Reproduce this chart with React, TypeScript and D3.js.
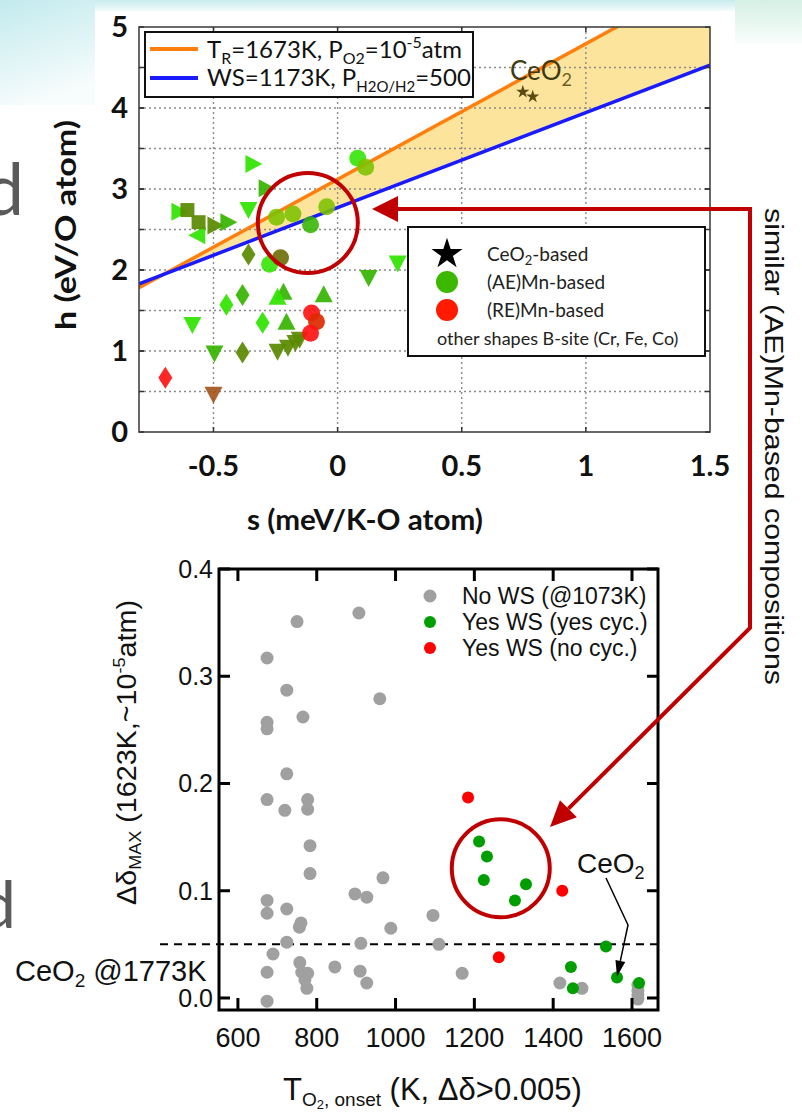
import React from "react";
import * as d3 from "d3";

// ---------------- TOP CHART DATA (h vs s) ----------------
const sTicks = [-0.5, 0, 0.5, 1, 1.5];
const sGrid = [-0.5, 0, 0.5, 1];
const hTicks = [0, 1, 2, 3, 4, 5];
const hGrid = [0.5, 1, 1.5, 2, 2.5, 3, 3.5, 4, 4.5];

// line endpoints [s, h]
const reductionLine = [[-0.8, 1.78], [1.5, 5.63]]; // TR=1673K, PO2=1e-5
const splittingLine = [[-0.8, 1.83], [1.5, 4.53]]; // WS=1173K

const ceo2Based = [[0.746, 4.2], [0.786, 4.14]];
// [s, h, shade]
const aeMnCircles = [
  [0.081, 3.38, "bright"], [0.113, 3.27, "yg"], [-0.246, 2.65, "yg"], [-0.18, 2.69, "yg"],
  [-0.044, 2.78, "yg"], [-0.109, 2.56, "mid"], [-0.274, 2.07, "bright"], [-0.23, 2.15, "dark"],
];
const reMnCircles = [[-0.105, 1.47, "red"], [-0.085, 1.36, "darkred"], [-0.109, 1.22, "red"]];
const downTriangles = [
  [-0.585, 1.32, "bright"], [-0.496, 0.97, "mid"], [-0.242, 0.99, "olive"], [-0.2, 1.04, "olive"],
  [-0.17, 1.1, "olive"], [-0.153, 1.14, "olive"], [-0.359, 2.74, "bright"], [0.125, 1.9, "mid"],
  [0.242, 2.08, "bright"], [-0.5, 0.46, "brown"],
];
const upTriangles = [[-0.218, 1.73, "mid"], [-0.242, 1.67, "bright"], [-0.056, 1.7, "mid"], [-0.206, 1.36, "mid"]];
const diamonds = [
  [-0.359, 2.19, "olive"], [-0.383, 1.69, "mid"], [-0.448, 1.57, "bright"], [-0.302, 1.35, "bright"],
  [-0.383, 0.98, "olive"], [-0.694, 0.67, "red"],
];
const rightTriangles = [
  [-0.339, 3.31, "bright"], [-0.286, 3.01, "mid"], [-0.637, 2.72, "bright"], [-0.492, 2.55, "olive"], [-0.44, 2.59, "mid"],
];
const leftTriangles = [[-0.565, 2.43, "bright"]];
const squares = [[-0.605, 2.74, "olive"], [-0.56, 2.59, "olive"]];

const shadeNames = ["bright", "mid", "yg", "olive", "dark", "red", "darkred", "brown"];
const shadeColors = ["#2fe400", "#36b400", "#7cc200", "#5a8a00", "#6a6800", "#ff1414", "#dc2a00", "#a5561e"];

// ---------------- BOTTOM CHART DATA ----------------
const tTicks = [600, 800, 1000, 1200, 1400, 1600];
const dTicks = [0.0, 0.1, 0.2, 0.3, 0.4];
const ceo2Ref = 0.05;
// [T_onset, delta]
const noWS = [
  [674, 0.317], [750, 0.351], [907, 0.359], [724, 0.287], [960, 0.279], [765, 0.262], [674, 0.257], [674, 0.251],
  [724, 0.209], [674, 0.185], [719, 0.175], [777, 0.185], [777, 0.176], [783, 0.142], [783, 0.116], [674, 0.091],
  [674, 0.079], [724, 0.083], [760, 0.07], [756, 0.066], [724, 0.052], [689, 0.041], [674, 0.024], [674, -0.003],
  [757, 0.033], [762, 0.024], [777, 0.023], [770, 0.017], [775, 0.009], [846, 0.029], [897, 0.097], [927, 0.094],
  [968, 0.112], [988, 0.065], [912, 0.051], [910, 0.025], [927, 0.014], [1095, 0.077], [1110, 0.05], [1169, 0.023],
  [1417, 0.014], [1473, 0.009], [1615, 0.012], [1615, 0.007], [1615, 0.003], [1615, -0.001],
];
const yesWSyesCyc = [
  [1212, 0.146], [1232, 0.132], [1224, 0.11], [1331, 0.106], [1303, 0.091], [1534, 0.048], [1445, 0.029],
  [1450, 0.009], [1562, 0.019], [1618, 0.014],
];
const yesWSnoCyc = [[1184, 0.187], [1423, 0.1], [1262, 0.038]];
const ceo2Point = [1562, 0.019];
const highlightTop = [-0.12, 2.58];
const highlightBottom = [1267, 0.121];

const arial = "'Liberation Sans', Arial, sans-serif";
const lato = "Lato, 'Open Sans', sans-serif";
const RED = "#c00000";

function markerPath(shape: string, x: number, y: number): string {
  switch (shape) {
    case "down":
      return `M${x - 9},${y - 8}L${x + 9},${y - 8}L${x},${y + 9}Z`;
    case "up":
      return `M${x - 9},${y + 8}L${x + 9},${y + 8}L${x},${y - 9}Z`;
    case "right":
      return `M${x - 8},${y - 9}L${x - 8},${y + 9}L${x + 9},${y}Z`;
    case "left":
      return `M${x + 8},${y - 9}L${x + 8},${y + 9}L${x - 9},${y}Z`;
    case "diamond":
      return `M${x},${y - 11}L${x + 7},${y}L${x},${y + 11}L${x - 7},${y}Z`;
    case "square":
      return `M${x - 7},${y - 7}h14v14h-14Z`;
    default:
      return "";
  }
}

export default function App() {
  const color = d3.scaleOrdinal<string, string>().domain(shadeNames).range(shadeColors);

  // top chart scales
  const xs = d3.scaleLinear().domain([-0.8, 1.5]).range([139, 710]);
  const ys = d3.scaleLinear().domain([0, 5]).range([432, 27]);
  const [tx0, tx1] = xs.range();
  const [ty0, ty1] = ys.range();

  const area = d3
    .area<number>()
    .x((i) => xs(reductionLine[i][0]))
    .y0((i) => ys(splittingLine[i][1]))
    .y1((i) => ys(reductionLine[i][1]));
  const line = d3
    .line<number[]>()
    .x((d) => xs(d[0]))
    .y((d) => ys(d[1]));

  // bottom chart scales
  const xb = d3.scaleLinear().domain([552, 1666]).range([219, 658]);
  const yb = d3.scaleLinear().domain([-0.0112, 0.4]).range([1010, 569]);
  const [bx0, bx1] = xb.range();
  const [by0, by1] = yb.range();

  const starLegend = d3.symbol(d3.symbolStar, 300)()!;
  const starSmall = d3.symbol(d3.symbolStar, 55)()!;

  const shapeSets: [string, any[]][] = [
    ["down", downTriangles],
    ["up", upTriangles],
    ["diamond", diamonds],
    ["right", rightTriangles],
    ["left", leftTriangles],
    ["square", squares],
  ];

  // bottom CeO2 annotation arrow
  const tipX = xb(ceo2Point[0]);
  const tipY = yb(ceo2Point[1]) - 1;
  const kneeX = 628, kneeY = 925;
  const dx = tipX - kneeX, dy = tipY - kneeY;
  const len = Math.hypot(dx, dy);
  const ux = dx / len, uy = dy / len;
  const bcx = tipX - 16 * ux, bcy = tipY - 16 * uy;

  // big red arrow from bracket
  const bigTipX = 550, bigTipY = 827;
  const kx = 750, ky = 628;
  const bdx = bigTipX - kx, bdy = bigTipY - ky;
  const bl = Math.hypot(bdx, bdy);
  const bux = bdx / bl, buy = bdy / bl;
  const bbx = bigTipX - 26 * bux, bby = bigTipY - 26 * buy;

  return (
    <svg width={802} height={1115} style={{ position: "absolute", left: 0, top: 0, background: "#fff" }}>
      <defs>
        <linearGradient id="bgTop" x1="0" y1="0" x2="0" y2="1">
          <stop offset="0" stopColor="#c9ecf0" />
          <stop offset="1" stopColor="#f4fbfb" />
        </linearGradient>
        <linearGradient id="bgLeft" x1="0" y1="0" x2="0.3" y2="1">
          <stop offset="0" stopColor="#c2eaee" />
          <stop offset="1" stopColor="#f7fcfc" />
        </linearGradient>
        <linearGradient id="bgRight" x1="0" y1="0" x2="0" y2="1">
          <stop offset="0" stopColor="#d5f0e4" />
          <stop offset="1" stopColor="#fbfefd" />
        </linearGradient>
        <clipPath id="topClip">
          <rect x={tx0} y={ty1} width={tx1 - tx0} height={ty0 - ty1} />
        </clipPath>
      </defs>

      {/* slide background */}
      <rect x={0} y={0} width={802} height={1115} fill="#fff" />
      <rect x={0} y={0} width={802} height={11} fill="url(#bgTop)" />
      <rect x={0} y={0} width={95} height={105} fill="url(#bgLeft)" />
      <rect x={735} y={0} width={67} height={45} fill="url(#bgRight)" />
      <text x={24} y={215} textAnchor="end" fontSize={72} fontFamily={lato} fill="#5a5a5a">d</text>
      <text x={16} y={928} textAnchor="end" fontSize={66} fontFamily={lato} fill="#5a5a5a">d</text>

      {/* ===== TOP CHART ===== */}
      <g clipPath="url(#topClip)">
        <path d={area([0, 1])!} fill="#fde49c" />
        {sGrid.map((s) => (
          <line key={"gx" + s} x1={xs(s)} x2={xs(s)} y1={ty1} y2={ty0} stroke="#8a8a8a" strokeWidth={1.4} strokeDasharray="2 3" />
        ))}
        {hGrid.map((h) => (
          <line key={"gy" + h} x1={tx0} x2={tx1} y1={ys(h)} y2={ys(h)} stroke="#8a8a8a" strokeWidth={1.4} strokeDasharray="2 3" />
        ))}
        <path d={line(reductionLine)!} stroke="#ff7f0e" strokeWidth={3.5} fill="none" />
        <path d={line(splittingLine)!} stroke="#1a1aff" strokeWidth={3.5} fill="none" />

        {shapeSets.map(([shape, arr]) =>
          arr.map((d: any, i: number) => (
            <path key={shape + i} d={markerPath(shape, xs(d[0]), ys(d[1]))} fill={color(d[2])} opacity={0.92} />
          ))
        )}
        {aeMnCircles.map((d: any, i) => (
          <circle key={"ae" + i} cx={xs(d[0])} cy={ys(d[1])} r={8.5} fill={color(d[2])} opacity={0.88} />
        ))}
        {reMnCircles.map((d: any, i) => (
          <circle key={"re" + i} cx={xs(d[0])} cy={ys(d[1])} r={8.5} fill={color(d[2])} opacity={0.92} />
        ))}
        {ceo2Based.map((d, i) => (
          <path key={"st" + i} d={starSmall} transform={`translate(${xs(d[0])},${ys(d[1])})`} fill="#5b4a12" />
        ))}
      </g>
      <text x={510} y={80} fontSize={26} fontFamily={lato} fill="#3f3a10">
        CeO<tspan fontSize={18} dy={6} fill="#6b5f20">2</tspan>
      </text>

      {/* frame */}
      <rect x={tx0} y={ty1} width={tx1 - tx0} height={ty0 - ty1} fill="none" stroke="#444" strokeWidth={1.6} />
      {hGrid.concat(hTicks).map((h, i) => (
        <g key={"ht" + i}>
          <line x1={tx0} x2={tx0 + 5} y1={ys(h)} y2={ys(h)} stroke="#333" strokeWidth={1.5} />
          <line x1={tx1} x2={tx1 - 5} y1={ys(h)} y2={ys(h)} stroke="#333" strokeWidth={1.5} />
        </g>
      ))}
      {sGrid.map((s) => (
        <g key={"st" + s}>
          <line x1={xs(s)} x2={xs(s)} y1={ty0} y2={ty0 - 5} stroke="#333" strokeWidth={1.5} />
          <line x1={xs(s)} x2={xs(s)} y1={ty1} y2={ty1 + 5} stroke="#333" strokeWidth={1.5} />
        </g>
      ))}
      {hTicks.map((h) => (
        <text key={"hl" + h} x={128} y={ys(h) + 10} textAnchor="end" fontSize={29} fontWeight="bold" fontFamily={lato} fill="#111">
          {h}
        </text>
      ))}
      {sTicks.map((s) => (
        <text key={"sl" + s} x={xs(s)} y={476} textAnchor="middle" fontSize={29} fontWeight="bold" fontFamily={lato} fill="#111">
          {s}
        </text>
      ))}
      <text x={247} y={530} fontSize={29} fontWeight="bold" fontFamily={lato} fill="#111" textLength={236} lengthAdjust="spacingAndGlyphs">
        s (meV/K-O atom)
      </text>
      <text transform="translate(76,330) rotate(-90)" fontSize={29} fontWeight="bold" fontFamily={lato} fill="#111" textLength={210} lengthAdjust="spacingAndGlyphs">
        h (eV/O atom)
      </text>

      {/* top legend (lines) */}
      <rect x={145} y={32} width={328} height={65} fill="#fff" stroke="#111" strokeWidth={2} />
      <line x1={150} x2={198} y1={49} y2={49} stroke="#ff7f0e" strokeWidth={4} />
      <line x1={150} x2={198} y1={78} y2={78} stroke="#1a1aff" strokeWidth={4} />
      <text x={207} y={58} fontSize={24} fontFamily={lato} fill="#111">
        T<tspan fontSize={16} dy={6}>R</tspan>
        <tspan dy={-6}>=1673K, P</tspan>
        <tspan fontSize={16} dy={6}>O2</tspan>
        <tspan dy={-6}>=10</tspan>
        <tspan fontSize={16} dy={-10}>-5</tspan>
        <tspan dy={10}>atm</tspan>
      </text>
      <text x={207} y={86} fontSize={24} fontFamily={lato} fill="#111">
        WS=1173K, P<tspan fontSize={15} dy={6}>H2O/H2</tspan>
        <tspan dy={-6}>=500</tspan>
      </text>

      {/* top legend (markers) */}
      <rect x={408} y={227} width={297} height={129} fill="#fff" stroke="#111" strokeWidth={2} />
      <path d={starLegend} transform="translate(447,254)" fill="#000" />
      <circle cx={447} cy={282} r={11} fill="#3cb800" />
      <circle cx={447} cy={310} r={11} fill="#ff1a00" />
      <text x={487} y={261} fontSize={19} fontFamily={lato} fill="#222">
        CeO<tspan fontSize={13} dy={4}>2</tspan>
        <tspan dy={-4}>-based</tspan>
      </text>
      <text x={487} y={289} fontSize={19} fontFamily={lato} fill="#222">(AE)Mn-based</text>
      <text x={487} y={317} fontSize={19} fontFamily={lato} fill="#222">(RE)Mn-based</text>
      <text x={437} y={345} fontSize={18} fontFamily={lato} fill="#222">other shapes B-site (Cr, Fe, Co)</text>

      {/* ===== BOTTOM CHART ===== */}
      <line x1={160} x2={bx1} y1={yb(ceo2Ref)} y2={yb(ceo2Ref)} stroke="#000" strokeWidth={2} strokeDasharray="8 6" />
      {noWS.map((d, i) => (
        <circle key={"g" + i} cx={xb(d[0])} cy={yb(d[1])} r={6.5} fill="#a0a0a0" />
      ))}
      {yesWSyesCyc.map((d, i) => (
        <circle key={"gr" + i} cx={xb(d[0])} cy={yb(d[1])} r={6} fill="#009e00" />
      ))}
      {yesWSnoCyc.map((d, i) => (
        <circle key={"r" + i} cx={xb(d[0])} cy={yb(d[1])} r={6} fill="#ff0000" />
      ))}

      {/* axes frame */}
      <rect x={bx0} y={by1} width={bx1 - bx0} height={by0 - by1} fill="none" stroke="#000" strokeWidth={3} />
      {dTicks.map((v) => (
        <g key={"dt" + v}>
          <line x1={bx0} x2={bx0 + 11} y1={yb(v)} y2={yb(v)} stroke="#000" strokeWidth={3} />
          <line x1={bx1} x2={bx1 - 11} y1={yb(v)} y2={yb(v)} stroke="#000" strokeWidth={3} />
          <text x={213} y={yb(v) + 9} textAnchor="end" fontSize={25} fontFamily={arial} fill="#111">
            {v.toFixed(1)}
          </text>
        </g>
      ))}
      {tTicks.map((t) => (
        <g key={"tt" + t}>
          <line x1={xb(t)} x2={xb(t)} y1={by0} y2={by0 - 12} stroke="#000" strokeWidth={3} />
          <line x1={xb(t)} x2={xb(t)} y1={by1} y2={by1 + 12} stroke="#000" strokeWidth={3} />
          <text x={xb(t)} y={1047} textAnchor="middle" fontSize={27} fontFamily={arial} fill="#111">
            {t}
          </text>
        </g>
      ))}
      <text x={283} y={1100} fontSize={31} fontFamily={arial} fill="#111">
        T<tspan fontSize={19} dy={6}>O</tspan>
        <tspan fontSize={13} dy={3}>2</tspan>
        <tspan fontSize={19} dy={-3}>, onset</tspan>
        <tspan dy={-6}> (K, Δδ&gt;0.005)</tspan>
      </text>
      <text
        transform="translate(136,905) rotate(-90)"
        fontSize={27}
        fontFamily={arial}
        fill="#111"
        textLength={305}
        lengthAdjust="spacingAndGlyphs"
      >
        Δδ<tspan fontSize={17} dy={5}>MAX</tspan>
        <tspan dy={-5}> (1623K,~10</tspan>
        <tspan fontSize={17} dy={-11}>-5</tspan>
        <tspan dy={11}>atm)</tspan>
      </text>
      <text x={15} y={981} fontSize={29} fontFamily={arial} fill="#111">
        CeO<tspan fontSize={19} dy={6}>2</tspan>
        <tspan dy={-6}> @1773K</tspan>
      </text>

      {/* legend */}
      <circle cx={430} cy={596} r={6.5} fill="#a0a0a0" />
      <circle cx={430} cy={622} r={6} fill="#009e00" />
      <circle cx={430} cy={648} r={6} fill="#ff0000" />
      <text x={462} y={604} fontSize={23} fontFamily={arial} fill="#111">No WS (@1073K)</text>
      <text x={462} y={630} fontSize={23} fontFamily={arial} fill="#111">Yes WS (yes cyc.)</text>
      <text x={462} y={656} fontSize={23} fontFamily={arial} fill="#111">Yes WS (no cyc.)</text>

      {/* CeO2 annotation */}
      <text x={577} y={873} fontSize={28} fontFamily={arial} fill="#111">
        CeO<tspan fontSize={18} dy={6}>2</tspan>
      </text>
      <polyline points={`606,878 ${kneeX},${kneeY} ${bcx},${bcy}`} fill="none" stroke="#000" strokeWidth={1.5} />
      <path
        d={`M${tipX},${tipY}L${bcx + 5 * -uy},${bcy + 5 * ux}L${bcx - 5 * -uy},${bcy - 5 * ux}Z`}
        fill="#000"
      />

      {/* ===== ANNOTATIONS ===== */}
      <circle cx={xs(highlightTop[0])} cy={ys(highlightTop[1])} r={50} fill="none" stroke={RED} strokeWidth={4} />
      <circle cx={xb(highlightBottom[0])} cy={yb(highlightBottom[1])} r={49} fill="none" stroke={RED} strokeWidth={4} />
      <polyline
        points={`397,209 750,209 ${kx},${ky} ${bbx},${bby}`}
        fill="none"
        stroke={RED}
        strokeWidth={4}
        strokeLinejoin="miter"
      />
      <path d="M372,209L398,196L398,222Z" fill={RED} />
      <path
        d={`M${bigTipX},${bigTipY}L${bbx + 12 * -buy},${bby + 12 * bux}L${bbx - 12 * -buy},${bby - 12 * bux}Z`}
        fill={RED}
      />
      <text
        transform="translate(765,208) rotate(90)"
        fontSize={25}
        fontFamily={arial}
        fill="#111"
        textLength={477}
        lengthAdjust="spacingAndGlyphs"
      >
        similar (AE)Mn-based compositions
      </text>
    </svg>
  );
}
